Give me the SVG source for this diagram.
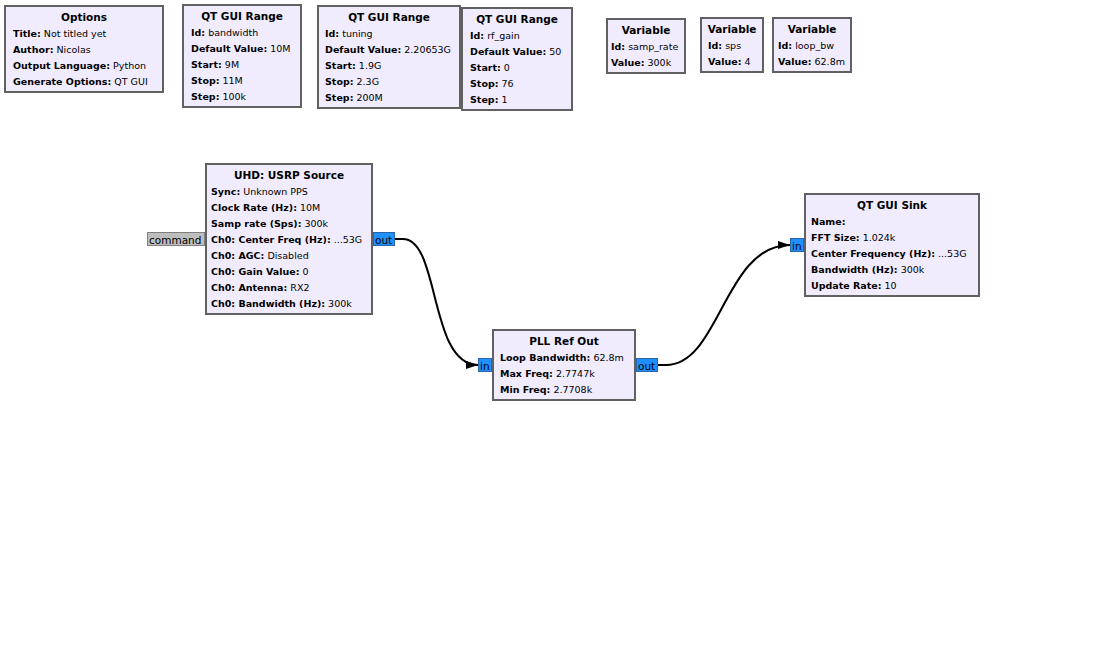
<svg xmlns="http://www.w3.org/2000/svg" width="1097" height="650" viewBox="0 0 1097 650">
<defs>
<style>
.blk{fill:#F0ECFE;stroke:#616161;stroke-width:2}
.t{font-family:"DejaVu Sans",sans-serif;font-size:10.5px;font-weight:bold;text-anchor:middle;fill:#000}
.b{font-family:"DejaVu Sans",sans-serif;font-size:9.5px;fill:#000}
.b tspan.k{font-weight:bold}
.port{fill:#1E90FF;stroke:#2C64A8;stroke-width:1}
.msg{fill:#BEBEBE;stroke:#7F7F7F;stroke-width:1}
.pl{font-family:"DejaVu Sans",sans-serif;font-size:10.5px;fill:#000}
.c{fill:none;stroke:#000;stroke-width:2}
</style>
<marker id="arr" markerUnits="userSpaceOnUse" markerWidth="14" markerHeight="10" refX="12" refY="4" orient="auto">
<path d="M0,0 L12,4 L0,8 Z" fill="#000"/>
</marker>
</defs>
<rect width="1097" height="650" fill="#fff"/>

<g id="options">
<rect class="blk" x="5" y="6" width="158" height="86"/>
<text class="t" x="84" y="21">Options</text>
<text class="b" x="13" y="36.5"><tspan class="k">Title:</tspan> Not titled yet</text>
<text class="b" x="13" y="52.5"><tspan class="k">Author:</tspan> Nicolas</text>
<text class="b" x="13" y="68.5"><tspan class="k">Output Language:</tspan> Python</text>
<text class="b" x="13" y="84.5"><tspan class="k">Generate Options:</tspan> QT GUI</text>
</g>

<g id="range_bandwidth">
<rect class="blk" x="183" y="5" width="118" height="102"/>
<text class="t" x="242" y="20">QT GUI Range</text>
<text class="b" x="191" y="35.5"><tspan class="k">Id:</tspan> bandwidth</text>
<text class="b" x="191" y="51.5"><tspan class="k">Default Value:</tspan> 10M</text>
<text class="b" x="191" y="67.5"><tspan class="k">Start:</tspan> 9M</text>
<text class="b" x="191" y="83.5"><tspan class="k">Stop:</tspan> 11M</text>
<text class="b" x="191" y="99.5"><tspan class="k">Step:</tspan> 100k</text>
</g>

<g id="range_tuning">
<rect class="blk" x="318" y="6" width="142" height="102"/>
<text class="t" x="389" y="21">QT GUI Range</text>
<text class="b" x="325" y="36.5"><tspan class="k">Id:</tspan> tuning</text>
<text class="b" x="325" y="52.5"><tspan class="k">Default Value:</tspan> 2.20653G</text>
<text class="b" x="325" y="68.5"><tspan class="k">Start:</tspan> 1.9G</text>
<text class="b" x="325" y="84.5"><tspan class="k">Stop:</tspan> 2.3G</text>
<text class="b" x="325" y="100.5"><tspan class="k">Step:</tspan> 200M</text>
</g>

<g id="range_rf_gain">
<rect class="blk" x="462" y="8" width="110" height="102"/>
<text class="t" x="517" y="23">QT GUI Range</text>
<text class="b" x="470" y="38.5"><tspan class="k">Id:</tspan> rf_gain</text>
<text class="b" x="470" y="54.5"><tspan class="k">Default Value:</tspan> 50</text>
<text class="b" x="470" y="70.5"><tspan class="k">Start:</tspan> 0</text>
<text class="b" x="470" y="86.5"><tspan class="k">Stop:</tspan> 76</text>
<text class="b" x="470" y="102.5"><tspan class="k">Step:</tspan> 1</text>
</g>

<g id="var_samp_rate">
<rect class="blk" x="607" y="19" width="78" height="54"/>
<text class="t" x="646" y="34">Variable</text>
<text class="b" x="611" y="49.5"><tspan class="k">Id:</tspan> samp_rate</text>
<text class="b" x="611" y="65.5"><tspan class="k">Value:</tspan> 300k</text>
</g>

<g id="var_sps">
<rect class="blk" x="701" y="18" width="62" height="54"/>
<text class="t" x="732" y="33">Variable</text>
<text class="b" x="708" y="48.5"><tspan class="k">Id:</tspan> sps</text>
<text class="b" x="708" y="64.5"><tspan class="k">Value:</tspan> 4</text>
</g>

<g id="var_loop_bw">
<rect class="blk" x="773" y="18" width="78" height="54"/>
<text class="t" x="812" y="33">Variable</text>
<text class="b" x="778" y="48.5"><tspan class="k">Id:</tspan> loop_bw</text>
<text class="b" x="778" y="64.5"><tspan class="k">Value:</tspan> 62.8m</text>
</g>

<g id="usrp_source">
<rect class="msg" x="147.5" y="232.5" width="57" height="13"/>
<text class="pl" x="149" y="243.5">command</text>
<rect class="port" x="373.5" y="232.5" width="21" height="13"/>
<text class="pl" x="375" y="243.5">out</text>
<rect class="blk" x="206" y="164" width="166" height="150"/>
<text class="t" x="289" y="179">UHD: USRP Source</text>
<text class="b" x="211" y="194.5"><tspan class="k">Sync:</tspan> Unknown PPS</text>
<text class="b" x="211" y="210.5"><tspan class="k">Clock Rate (Hz):</tspan> 10M</text>
<text class="b" x="211" y="226.5"><tspan class="k">Samp rate (Sps):</tspan> 300k</text>
<text class="b" x="211" y="242.5"><tspan class="k">Ch0: Center Freq (Hz):</tspan> ...53G</text>
<text class="b" x="211" y="258.5"><tspan class="k">Ch0: AGC:</tspan> Disabled</text>
<text class="b" x="211" y="274.5"><tspan class="k">Ch0: Gain Value:</tspan> 0</text>
<text class="b" x="211" y="290.5"><tspan class="k">Ch0: Antenna:</tspan> RX2</text>
<text class="b" x="211" y="306.5"><tspan class="k">Ch0: Bandwidth (Hz):</tspan> 300k</text>
</g>

<g id="pll_ref_out">
<rect class="port" x="478.5" y="358.5" width="13" height="13"/>
<text class="pl" x="480" y="369.5">in</text>
<rect class="port" x="636.5" y="358.5" width="21" height="13"/>
<text class="pl" x="638" y="369.5">out</text>
<rect class="blk" x="493" y="330" width="142" height="70"/>
<text class="t" x="564" y="345">PLL Ref Out</text>
<text class="b" x="500" y="360.5"><tspan class="k">Loop Bandwidth:</tspan> 62.8m</text>
<text class="b" x="500" y="376.5"><tspan class="k">Max Freq:</tspan> 2.7747k</text>
<text class="b" x="500" y="392.5"><tspan class="k">Min Freq:</tspan> 2.7708k</text>
</g>

<g id="qt_gui_sink">
<rect class="port" x="790.5" y="238.5" width="13" height="13"/>
<text class="pl" x="792" y="249.5">in</text>
<rect class="blk" x="805" y="194" width="174" height="102"/>
<text class="t" x="892" y="209">QT GUI Sink</text>
<text class="b" x="811" y="224.5"><tspan class="k">Name:</tspan></text>
<text class="b" x="811" y="240.5"><tspan class="k">FFT Size:</tspan> 1.024k</text>
<text class="b" x="811" y="256.5"><tspan class="k">Center Frequency (Hz):</tspan> ...53G</text>
<text class="b" x="811" y="272.5"><tspan class="k">Bandwidth (Hz):</tspan> 300k</text>
<text class="b" x="811" y="288.5"><tspan class="k">Update Rate:</tspan> 10</text>
</g>

<g id="connectors">
<path class="c" d="M395,239 L403,239 C440,239 429,365 478,365" marker-end="url(#arr)"/>
<path class="c" d="M658,365 L666,365 C720,365 724,245 790,245" marker-end="url(#arr)"/>
</g>
</svg>
